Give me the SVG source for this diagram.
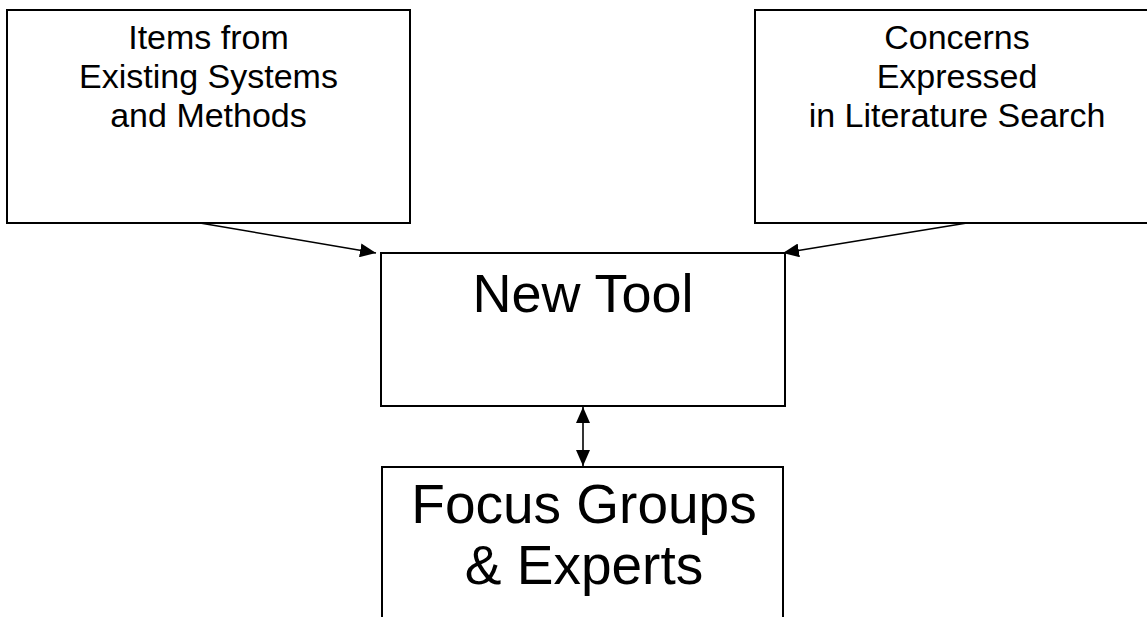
<svg xmlns="http://www.w3.org/2000/svg" width="1147" height="617" viewBox="0 0 1147 617">
<style>
.box{fill:#fff;stroke:#000;stroke-width:2}
.t{font-family:"Liberation Sans",Arial,sans-serif;fill:#000;text-anchor:middle}
.s{font-size:34px}
.l{font-size:54px}
.xl{font-size:55px}
.c{stroke:#000;stroke-width:1.6;fill:none}
</style>
<defs>
<marker id="ah" viewBox="0 0 16 14" refX="16" refY="7" markerWidth="16" markerHeight="14" markerUnits="userSpaceOnUse" orient="auto-start-reverse">
<path d="M0,0 L16,7 L0,14 Z" fill="#000"/>
</marker>
</defs>
<rect width="1147" height="617" fill="#fff"/>
<g id="items">
<rect class="box" x="7" y="10" width="403" height="213"/>
<text class="t s" x="208.5" y="49">Items from</text>
<text class="t s" x="208.5" y="88">Existing Systems</text>
<text class="t s" x="208.5" y="127">and Methods</text>
</g>
<g id="concerns">
<rect class="box" x="755" y="10" width="405" height="213"/>
<text class="t s" x="957" y="49">Concerns</text>
<text class="t s" x="957" y="88">Expressed</text>
<text class="t s" x="957" y="127">in Literature Search</text>
</g>
<g id="newtool">
<rect class="box" x="381" y="253" width="404" height="153"/>
<text class="t l" x="583" y="312">New Tool</text>
</g>
<g id="focus">
<rect class="box" x="382" y="467" width="401" height="200"/>
<text class="t xl" x="584" y="523">Focus Groups</text>
<text class="t xl" x="584" y="584">&amp; Experts</text>
</g>
<g id="connectors">
<line class="c" x1="200" y1="223" x2="376" y2="253" marker-end="url(#ah)"/>
<line class="c" x1="967" y1="223" x2="783" y2="253" marker-end="url(#ah)"/>
<line class="c" x1="583" y1="407" x2="583" y2="466" marker-start="url(#ah)" marker-end="url(#ah)"/>
</g>
</svg>
